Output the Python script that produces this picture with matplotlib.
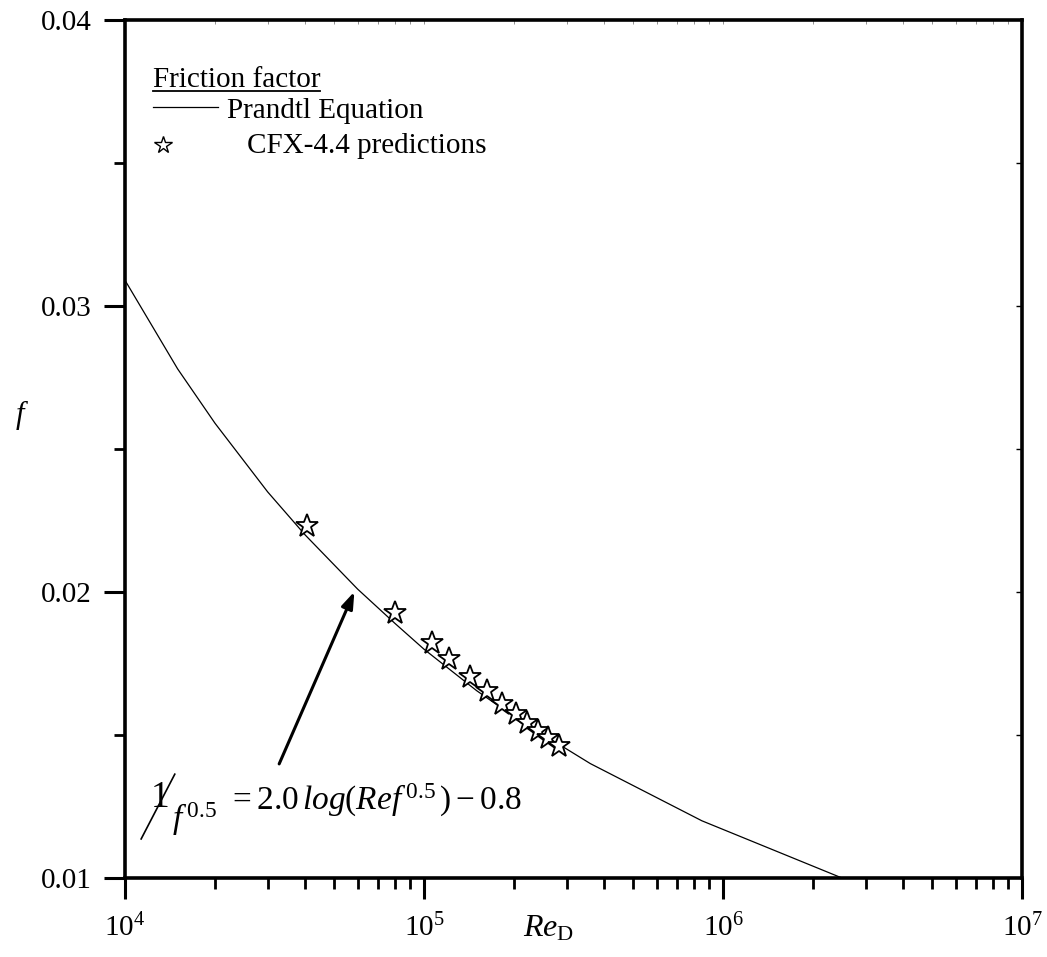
import numpy as np
import matplotlib.pyplot as plt
from matplotlib.ticker import LogLocator, FixedLocator, NullFormatter

plt.rcParams['font.family'] = ['Liberation Serif', 'DejaVu Serif']
plt.rcParams['mathtext.fontset'] = 'custom'
plt.rcParams['mathtext.rm'] = 'Liberation Serif'
plt.rcParams['mathtext.it'] = 'Liberation Serif:italic'

# Prandtl equation curve
re_prandtl = [1e4, 1.5e4, 2e4, 3e4, 4e4, 6e4, 8e4, 1e5, 1.5e5, 2e5, 3.6e5, 8.5e5, 2.5e6]
f_prandtl = [0.0309, 0.0278, 0.0259, 0.0235, 0.0220, 0.0201, 0.0189, 0.0180,
             0.01655, 0.01564, 0.0140, 0.0120, 0.0100]

# CFX-4.4 predictions
re_cfx = [4.05e4, 8.0e4, 1.06e5, 1.21e5, 1.42e5, 1.62e5, 1.83e5, 2.03e5,
          2.21e5, 2.41e5, 2.59e5, 2.83e5]
f_cfx = [0.02231, 0.01928, 0.01823, 0.01765, 0.01704, 0.01654, 0.01607,
         0.01572, 0.01543, 0.01514, 0.01491, 0.01462]

yticks = [0.01, 0.02, 0.03, 0.04]
ytick_labels = ['0.01', '0.02', '0.03', '0.04']

fig = plt.figure(figsize=(10.47, 9.57), dpi=100)
ax = fig.add_axes([125/1047, 1-878/957, 897/1047, 858/957])

ax.plot(re_prandtl, f_prandtl, color='black', lw=0.9)
ax.plot(re_cfx, f_cfx, ls='none', marker='*', ms=17, mfc='white', mec='black', mew=1.3)

ax.set_xscale('log')
ax.set_xlim(1e4, 1e7)
ax.set_ylim(0.01, 0.04)

ax.yaxis.set_major_locator(FixedLocator(yticks))
ax.set_yticklabels(ytick_labels)
ax.yaxis.set_minor_locator(FixedLocator([0.015, 0.025, 0.035]))
ax.xaxis.set_major_locator(LogLocator(base=10, numticks=10))
ax.xaxis.set_minor_locator(LogLocator(base=10, subs=np.arange(2, 10), numticks=20))
ax.xaxis.set_minor_formatter(NullFormatter())

for s in ax.spines.values():
    s.set_linewidth(2.6)
ax.tick_params(which='major', direction='out', length=15, width=2.2, labelsize=21)
ax.tick_params(which='minor', direction='out', length=8, width=2.0)
ax.tick_params(axis='y', which='major', pad=9)
ax.tick_params(axis='x', which='major', pad=11)

# inward ticks on the right and top
axr = ax.secondary_yaxis('right')
axr.yaxis.set_major_locator(FixedLocator([0.015, 0.02, 0.025, 0.03, 0.035]))
axr.tick_params(direction='in', length=4, width=1.0, labelright=False)
axr.spines['right'].set_visible(False)
axt = ax.secondary_xaxis('top')
axt.xaxis.set_major_locator(LogLocator(base=10, subs=np.arange(1, 10), numticks=40))
axt.xaxis.set_minor_locator(FixedLocator([]))
axt.tick_params(direction='in', length=3, width=0.6, color='0.5', labeltop=False)
axt.spines['top'].set_visible(False)

ax.set_ylabel('$f$', fontsize=22, rotation=0)
ax.yaxis.set_label_coords(-0.115, 0.52)
ax.text(0.4437, -0.0676, r'$Re_{\mathrm{D}}$', transform=ax.transAxes, fontsize=23,
        ha='left', va='baseline')

# legend drawn by hand (underlined title)
ax.text(0.0312, 0.922, 'Friction factor', transform=ax.transAxes, fontsize=21, va='baseline')
ax.plot([0.0312, 0.2174], [0.9175, 0.9175], transform=ax.transAxes, color='black', lw=1.3)
ax.plot([0.0312, 0.1037], [0.8986, 0.8986], transform=ax.transAxes, color='black', lw=0.9)
ax.text(0.1137, 0.8858, 'Prandtl Equation', transform=ax.transAxes, fontsize=21, va='baseline')
ax.plot([0.0424], [0.8543], transform=ax.transAxes, ls='none', marker='*', ms=13,
        mfc='white', mec='black', mew=1.0)
ax.text(0.136, 0.845, 'CFX-4.4 predictions', transform=ax.transAxes, fontsize=21, va='baseline')

# equation and arrow
ax.annotate('', xy=(5.9e4, 0.0201), xytext=(3.25e4, 0.0139),
            arrowprops=dict(arrowstyle='-|>,head_length=1.0,head_width=0.35',
                            color='black', lw=2.2))
ax.text(0.029, 0.0828, '1', transform=ax.transAxes, fontsize=27, va='baseline')
ax.plot([0.018, 0.0555], [0.0455, 0.121], transform=ax.transAxes, color='black', lw=1.2)
ax.text(0.0524, 0.057, r'$f^{\,\mathrm{0.5}}$', transform=ax.transAxes, fontsize=24, va='baseline')
ax.text(0.1148, 0.0793, r'$= 2.0\,log(Re f^{\,\mathrm{0.5}}\,) - 0.8$', transform=ax.transAxes,
        fontsize=24, va='baseline')

fig.savefig('out.png', dpi=100)
